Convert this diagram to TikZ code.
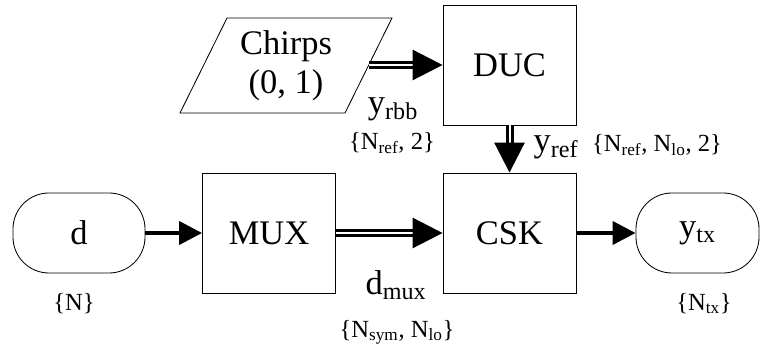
\documentclass[tikz,border=0pt]{standalone}
\usepackage{fontspec}
\setmainfont{Liberation Serif}
\usetikzlibrary{arrows.meta}

\newcommand{\bigfont}{\fontsize{24.5}{27.7}\selectfont}
\newcommand{\dimfont}{\fontsize{17.5}{20}\selectfont}

\tikzset{
    block/.style={draw, line width=0.6pt, minimum width=3.325cm, minimum height=3cm, font=\bigfont, inner sep=0pt},
    term/.style={draw, line width=0.6pt, rounded corners=0.9cm, minimum height=2cm, font=\bigfont, inner sep=0pt},
    lbl/.style={font=\bigfont, anchor=base, inner sep=0pt},
    dimlbl/.style={font=\dimfont, anchor=base, inner sep=0pt},
    arr/.style={line width=0.1cm, -{Triangle[length=0.575cm, width=0.575cm]}},
    darr/.style={line width=0.075cm, double distance=0.05cm, -{Triangle[length=0.75cm, width=0.75cm]}}
}

\begin{document}
\begin{tikzpicture}[x=0.025cm, y=-0.025cm]
    % Fix the frame to the size of the figure
    \useasboundingbox (0,0) rectangle (760,346);

    % 1. Input chirps (parallelogram) and DUC
    \draw[line width=0.6pt] (227,18) -- (392,18) -- (345,113) -- (180,113) -- cycle;
    \node[font=\bigfont, align=center, inner sep=0pt] (chirps) at (286,66) {Chirps\\(0, 1)};
    \coordinate (rbbout) at (369,65);
    \node[block] (duc) at (509.5,65) {DUC};

    % 2. Main chain: d -> MUX -> CSK -> y_tx
    \node[term, minimum width=3.3cm] (d) at (79,233) {d};
    \node[block] (mux) at (269,233) {MUX};
    \node[block] (csk) at (509.5,233) {CSK};
    \node[term, minimum width=3.075cm] (ytx) at (697.5,233) {y\textsubscript{tx}};

    % 3. Arrows
    \draw[darr] (rbbout) -- (duc.west);
    \draw[darr] (duc.south) -- (csk.north);
    \draw[arr] (d.east) -- (mux.west);
    \draw[darr] (mux.east) -- (csk.west);
    \draw[arr] (csk.east) -- (ytx.west);

    % 4. Signal names and their sizes
    \node[lbl] (yrbb) at (393,114) {y\textsubscript{rbb}};
    \node[dimlbl] (rbbdim) at (392,150) {\{N\textsubscript{ref}, 2\}};
    \node[lbl] (yref) at (556,152) {y\textsubscript{ref}};
    \node[dimlbl] (refdim) at (657,152) {\{N\textsubscript{ref}, N\textsubscript{lo}, 2\}};
    \node[lbl] (dmux) at (396,294) {d\textsubscript{mux}};
    \node[dimlbl] (muxdim) at (397,337) {\{N\textsubscript{sym}, N\textsubscript{lo}\}};
    \node[dimlbl] (ddim) at (74,310) {\{N\}};
    \node[dimlbl] (txdim) at (704,310) {\{N\textsubscript{tx}\}};

\end{tikzpicture}
\end{document}
